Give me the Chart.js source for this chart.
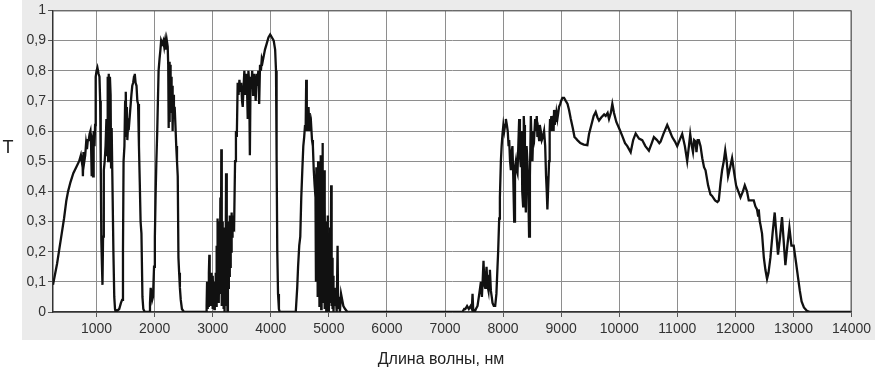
<!DOCTYPE html>
<html>
<head>
<meta charset="utf-8">
<script src="https://cdn.jsdelivr.net/npm/chart.js@4.4.1/dist/chart.umd.min.js"></script>
<style>
  html, body { margin: 0; padding: 0; background: #fff; }
  #wrap { width: 875px; height: 371px; }
</style>
</head>
<body>
<div id="wrap"><canvas id="spectrum" width="875" height="371"></canvas></div>
<script>
// transmission spectrum, values
var wavelength = [
  250, 280, 320, 360, 400, 440, 480, 510, 550, 600, 650, 700, 730, 745, 755, 765, 775, 790, 805, 820,
  835, 850, 865, 880, 895, 905, 912, 920, 930, 940, 950, 965, 975, 985, 1000, 1015, 1035, 1050, 1062, 1072,
  1082, 1092, 1102, 1112, 1125, 1140, 1155, 1170, 1180, 1192, 1200, 1210, 1220, 1230, 1242, 1250, 1260, 1272, 1290, 1305,
  1318, 1330,
  // 1.5 - 1.8 um
  1390, 1420, 1440, 1455, 1465, 1480, 1492, 1500, 1506, 1514, 1522, 1530, 1545, 1560, 1580, 1600, 1615, 1630, 1645, 1658,
  1672, 1688, 1702, 1715, 1730, 1744, 1758, 1773, 1790, 1805, 1830,
  // 2 - 2.5 um
  1905, 1920, 1932, 1945, 1958, 1972, 1990, 2004, 2018, 2030, 2045, 2068, 2085, 2100, 2112, 2130, 2150, 2165, 2180, 2195,
  2210, 2225, 2234, 2242, 2250, 2258, 2266, 2275, 2284, 2292, 2300, 2310, 2320, 2332, 2345, 2358, 2372, 2385, 2398, 2410,
  2422, 2435, 2450, 2470, 2505,
  // 3 - 4 um
  2885, 2895, 2903, 2910, 2918, 2926, 2934, 2942, 2948, 2956, 2964, 2972, 2980, 2988, 2996, 3004, 3012, 3020, 3028, 3036,
  3044, 3052, 3060, 3068, 3076, 3084, 3092, 3100, 3108, 3116, 3124, 3132, 3140, 3148, 3156, 3164, 3172, 3180, 3188, 3196,
  3204, 3212, 3220, 3230, 3238, 3246, 3254, 3262, 3270, 3278, 3286, 3294, 3302, 3310, 3318, 3326, 3334, 3342, 3350, 3360,
  3370, 3385, 3400, 3415, 3430, 3445, 3460, 3475, 3490, 3505, 3517, 3530, 3545, 3560, 3575, 3590, 3603, 3615, 3628, 3640,
  3652, 3665, 3680, 3695, 3710, 3725, 3740, 3755, 3770, 3785, 3800, 3815, 3830, 3845, 3860, 3880, 3900, 3930, 3960, 3990,
  4020, 4050, 4075, 4090, 4100, 4112, 4125, 4140, 4155,
  // 4.5 - 5.3 um
  4430, 4455, 4470, 4490, 4508, 4525, 4543, 4560, 4575, 4590, 4600, 4610, 4620, 4630, 4640, 4650, 4660, 4670, 4680, 4695,
  4710, 4725, 4740, 4755, 4770, 4778, 4785, 4792, 4800, 4808, 4815, 4822, 4830, 4838, 4845, 4852, 4860, 4868, 4875, 4882,
  4890, 4897, 4904, 4911, 4918, 4925, 4932, 4940, 4948, 4955, 4962, 4970, 4978, 4985, 4992, 5000, 5008, 5015, 5022, 5030,
  5040, 5048, 5056, 5064, 5072, 5080, 5090, 5100, 5120, 5135, 5150, 5160, 5175, 5190, 5210, 5230, 5250, 5280, 5320,
  // 7.3 - 9.4 um
  7300, 7330, 7350, 7380, 7410, 7440, 7462, 7474, 7485, 7510, 7532, 7560, 7590, 7618, 7635, 7650, 7663, 7678, 7692, 7705,
  7715, 7730, 7749, 7762, 7773, 7790, 7805, 7818, 7840, 7864, 7885, 7904, 7915, 7933, 7945, 7962, 7975, 7990, 8005, 8020,
  8035, 8048, 8065, 8080, 8095, 8105, 8120, 8134, 8148, 8161, 8175, 8191, 8205, 8220, 8234, 8248, 8262, 8277, 8290, 8306,
  8320, 8330, 8345, 8356, 8362, 8376, 8392, 8405, 8419, 8434, 8448, 8462, 8478, 8492, 8505, 8520, 8536, 8552, 8565, 8580,
  8591, 8605, 8620, 8632, 8650, 8667, 8685, 8706, 8725, 8740, 8752, 8763, 8778, 8792, 8802, 8809, 8820, 8830, 8840, 8849,
  8860, 8870, 8878, 8890, 8900, 8907, 8920, 8935, 8950, 8964, 8985, 9000, 9021, 9050, 9079, 9110, 9136, 9166, 9200, 9230,
  9251, 9279, 9330, 9390, 9451,
  // 9.5 - 14 um
  9480, 9520, 9560, 9595, 9625, 9652, 9690, 9740, 9767, 9800, 9824, 9855, 9881, 9910, 9950, 9996, 10050, 10100, 10139, 10197,
  10240, 10283, 10340, 10396, 10450, 10511, 10560, 10597, 10650, 10690, 10712, 10760, 10826, 10870, 10912, 10960, 10998, 11040, 11084, 11130,
  11170, 11200, 11222, 11250, 11270, 11290, 11314, 11330, 11350, 11371, 11400, 11430, 11460, 11486, 11530, 11570, 11599, 11650, 11690, 11714,
  11745, 11771, 11800, 11825, 11850, 11874, 11910, 11943, 11980, 12012, 12050, 12088, 12130, 12162, 12200, 12230, 12270, 12316, 12345, 12373,
  12390, 12402, 12420, 12431, 12459, 12490, 12517, 12545, 12570, 12603, 12640, 12677, 12705, 12734, 12770, 12803, 12830, 12861, 12895, 12930,
  12965, 13004, 13040, 13075, 13110, 13140, 13180, 13230, 13290, 14000
];
var transmission = [
  .09, .12, .16, .21, .26, .31, .37, .40, .43, .46, .48, .50, .52, .50, .52, .45, .53, .50, .52, .56,
  .54, .57, .57, .59, .60, .56, .45, .58, .57, .45, .60, .55, .62, .78, .80, .81, .79, .78, .70, .50,
  .24, .16, .09, .25, .47, .50, .55, .64, .52, .78, .50, .79, .55, .78, .72, .48, .61, .45, .20, .05,
  .01, 0,
  .01, .03, .04, .20, .50, .55, .70, .58, .73, .60, .68, .57, .63, .62, .67, .72, .75, .76, .78, .79,
  .76, .75, .70, .69, .55, .43, .30, .26, .05, .01, 0,
  0, .03, .08, .06, .04, .05, .15, .25, .40, .50, .60, .80, .84, .87, .90, .89, .90, .88, .90, .87,
  .90, .88, .82, .61, .83, .63, .82, .72, .78, .66, .75, .60, .72, .66, .68, .62, .55, .50, .45, .18,
  .13, .08, .04, .01, 0,
  0, .02, .10, .01, .08, .02, .13, .19, .03, .11, .02, .13, .04, .11, .01, .12, .03, .10, .01, .09,
  .04, .13, .02, .22, .05, .31, .08, .30, .03, .25, .10, .38, .06, .54, .02, .30, .04, .28, .01, .22,
  0, .28, .05, .46, .02, .25, 0, .30, .08, .27, .12, .32, .15, .30, .20, .33, .25, .32, .27, .31,
  .30, .50, .60, .58, .76, .72, .77, .73, .76, .70, .68, .74, .80, .72, .79, .75, .64, .80, .76, .52,
  .78, .74, .80, .72, .79, .76, .70, .79, .75, .80, .69, .82, .80, .84, .83, .85, .87, .89, .91, .92,
  .91, .90, .87, .80, .52, .20, .06, .01, 0,
  0, .08, .15, .22, .25, .38, .47, .55, .58, .62, .60, .77, .60, .67, .60, .68, .62, .66, .60, .62,
  .57, .55, .47, .42, .38, .10, .48, .15, .46, .05, .50, .12, .47, .02, .45, .10, .52, .01, .44, .08,
  .56, .03, .40, .06, .47, .01, .35, .05, .30, 0, .28, .04, .32, .02, .25, 0, .20, .03, .28, .05,
  .42, .02, .18, .01, .12, 0, .08, .02, .05, 0, .22, .01, .05, 0, .06, .04, .02, .01, 0,
  0, .01, .01, .02, .01, .02, .01, .06, .01, 0, .01, .02, .06, .10, .05, .11, .17, .09, .08, .12,
  .15, .09, .07, .12, .14, .07, .05, .03, .02, .02, .06, .15, .20, .31, .38, .50, .55, .59, .62, .60,
  .62, .64, .62, .60, .55, .57, .50, .47, .53, .55, .45, .30, .48, .50, .47, .46, .55, .64, .52, .48,
  .60, .40, .35, .65, .62, .45, .33, .55, .50, .40, .25, .45, .65, .55, .50, .60, .58, .64, .60, .65,
  .58, .60, .57, .62, .60, .57, .58, .60, .55, .45, .40, .34, .42, .50, .60, .64, .61, .65, .60, .63,
  .65, .60, .67, .62, .65, .63, .66, .64, .66, .68, .69, .70, .71, .71, .70, .69, .67, .64, .61, .58,
  .576, .57, .56, .555, .553,
  .59, .62, .65, .663, .645, .635, .645, .655, .65, .66, .64, .66, .69, .66, .63, .61, .585, .56, .55, .53,
  .57, .592, .575, .57, .55, .535, .56, .58, .57, .56, .565, .59, .62, .60, .58, .565, .55, .57, .59, .55,
  .50, .55, .59, .55, .53, .57, .565, .53, .57, .57, .55, .51, .48, .47, .42, .39, .385, .37, .365, .37,
  .43, .47, .50, .536, .50, .45, .48, .51, .46, .42, .40, .38, .40, .42, .40, .37, .37, .37, .35, .34,
  .32, .34, .30, .29, .26, .18, .14, .11, .13, .18, .26, .33, .26, .19, .25, .315, .24, .155, .22, .28,
  .22, .22, .17, .12, .07, .035, .015, .004, 0, 0
];

var xTickValues = [1000, 2000, 3000, 4000, 5000, 6000, 7000, 8000, 9000, 10000, 11000, 12000, 13000, 14000];
var yTickValues = [0, 0.1, 0.2, 0.3, 0.4, 0.5, 0.6, 0.7, 0.8, 0.9, 1];
var yTickLabels = ['0', '0,1', '0,2', '0,3', '0,4', '0,5', '0,6', '0,7', '0,8', '0,9', '1'];

var points = [];
for (var i = 0; i < wavelength.length; i++) {
  points.push({x: wavelength[i], y: transmission[i]});
}

var fontName = '"Liberation Sans", Arial, sans-serif';

// grey panel behind the plot + frame + axis captions
var panel = {
  id: 'panel',
  beforeDraw: function(chart) {
    var ctx = chart.ctx, a = chart.chartArea;
    ctx.save();
    ctx.fillStyle = '#ffffff';
    ctx.fillRect(0, 0, chart.width, chart.height);
    ctx.fillStyle = '#ebebeb';
    ctx.fillRect(22, 0, chart.width - 22, 340);
    ctx.fillStyle = '#ffffff';
    ctx.fillRect(a.left, a.top, a.right - a.left, a.bottom - a.top);
    ctx.restore();
  },
  afterDraw: function(chart) {
    var ctx = chart.ctx, a = chart.chartArea;
    ctx.save();
    ctx.strokeStyle = '#555';
    ctx.lineWidth = 1;
    ctx.beginPath();
    ctx.moveTo(a.left, a.top + 0.5);
    ctx.lineTo(a.right - 0.5, a.top + 0.5);
    ctx.lineTo(a.right - 0.5, a.bottom);
    ctx.stroke();
    ctx.fillStyle = '#222';
    ctx.textAlign = 'center';
    ctx.textBaseline = 'middle';
    ctx.font = '18px ' + fontName;
    ctx.fillText('T', 8, 148);
    ctx.font = '16px ' + fontName;
    ctx.fillText('Длина волны, нм', 441, 360);
    ctx.restore();
  }
};

var ctx = document.getElementById('spectrum').getContext('2d');
var chart = new Chart(ctx, {
  type: 'line',
  data: {
    datasets: [{
      data: points,
      borderColor: '#111',
      borderWidth: 2.3,
      pointRadius: 0,
      tension: 0,
      fill: false
    }]
  },
  options: {
    responsive: false,
    animation: false,
    events: [],
    layout: { padding: { top: 10, right: 22, left: 0, bottom: 0 } },
    plugins: { legend: { display: false }, tooltip: { enabled: false } },
    scales: {
      x: {
        type: 'linear',
        min: 250,
        max: 14000,
        afterBuildTicks: function(scale) {
          scale.ticks = xTickValues.map(function(v) { return {value: v}; });
        },
        afterFit: function(scale) { scale.height = 59; },
        ticks: {
          autoSkip: false,
          maxRotation: 0,
          padding: 4,
          color: '#333',
          font: { family: fontName, size: 14 },
          callback: function(v) { return String(v); }
        },
        grid: { color: '#8e8e8e', lineWidth: 1, tickLength: 5, tickColor: '#555' },
        border: { color: '#333', width: 1.5 }
      },
      y: {
        min: 0,
        max: 1,
        afterBuildTicks: function(scale) {
          scale.ticks = yTickValues.map(function(v) { return {value: v}; });
        },
        afterFit: function(scale) { scale.width = 53; },
        ticks: {
          autoSkip: false,
          padding: 2,
          color: '#333',
          font: { family: fontName, size: 14 },
          callback: function(v, idx) { return yTickLabels[idx]; }
        },
        grid: { color: '#8e8e8e', lineWidth: 1, tickLength: 5, tickColor: '#555' },
        border: { color: '#333', width: 1.5 }
      }
    }
  },
  plugins: [panel]
});
</script>
</body>
</html>
